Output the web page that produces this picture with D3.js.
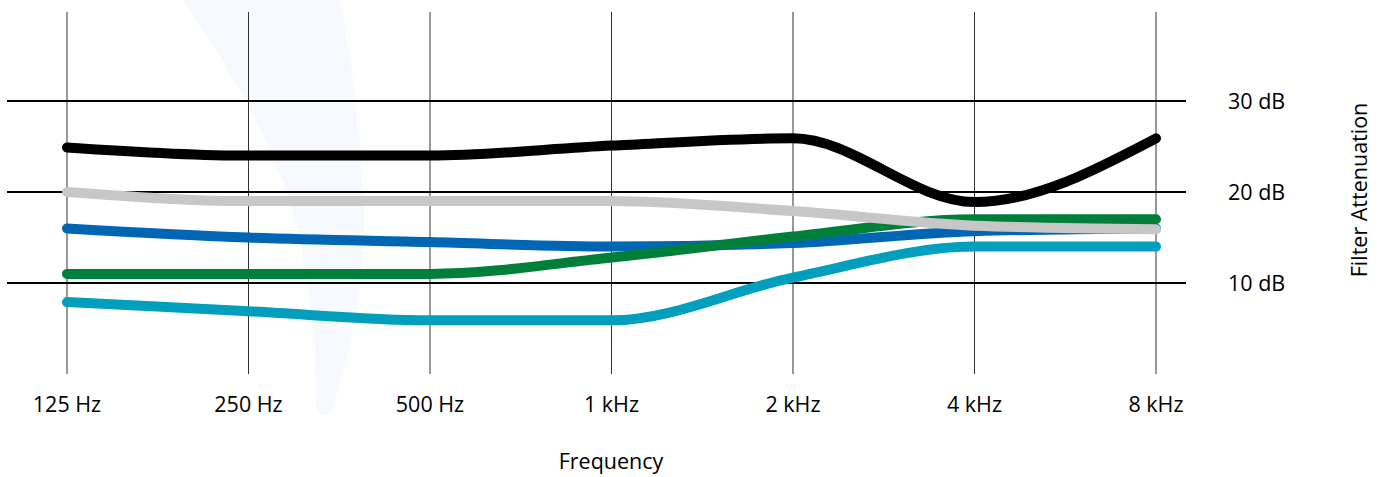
<!DOCTYPE html>
<html>
<head>
<meta charset="utf-8">
<script src="https://cdn.jsdelivr.net/npm/d3@7"></script>
<style>
  body { margin: 0; background: #fff; }
  svg { display: block; font-family: "Open Sans", Lato, sans-serif; }
</style>
</head>
<body>
<svg id="chart" width="1386" height="477"></svg>
<script>
// frequency bands on the x axis
const bands = ["125 Hz", "250 Hz", "500 Hz", "1 kHz", "2 kHz", "4 kHz", "8 kHz"];
const dbTicks = [10, 20, 30];

// attenuation (dB) per filter
const cyanVals  = [7.9, 6.9, 5.9, 5.9, 10.6, 14, 14];
const blueVals  = [16, 15, 14.5, 14, 14.4, 15.7, 16];
const greenVals = [11, 11, 11, 12.8, 15.1, 17, 17];
const grayVals  = [20, 19, 19, 19, 17.9, 16.3, 15.9];
const blackVals = [24.9, 24, 24, 25.1, 25.9, 18.9, 25.9];

const series = [
  {name: "cyan",  color: "#009fbd", values: cyanVals},
  {name: "blue",  color: "#0066b3", values: blueVals},
  {name: "green", color: "#007f3b", values: greenVals},
  {name: "gray",  color: "#c6c7c6", values: grayVals},
  {name: "black", color: "#000000", values: blackVals}
];

const svg = d3.select("#chart");

const x = d3.scalePoint()
  .domain(bands)
  .range([67, 1156]);

const y = d3.scaleLinear()
  .domain([0, 30])
  .range([374, 101]);

// faint watermark behind the grid
svg.append("path")
  .attr("d", "M183,0 C220,55 270,130 295,220 C312,290 316,360 316,405 C316,418 332,418 334,405 C350,350 366,280 364,210 C362,140 352,60 340,0 Z")
  .attr("fill", "#f6f9fd");

// vertical grid lines
svg.append("g")
  .selectAll("line")
  .data(bands)
  .join("line")
  .attr("x1", d => x(d))
  .attr("x2", d => x(d))
  .attr("y1", 12)
  .attr("y2", 374)
  .attr("stroke", "#333")
  .attr("stroke-width", 1);

// horizontal dB lines
svg.append("g")
  .selectAll("line")
  .data(dbTicks)
  .join("line")
  .attr("x1", 7)
  .attr("x2", 1186)
  .attr("y1", d => y(d))
  .attr("y2", d => y(d))
  .attr("stroke", "#000")
  .attr("stroke-width", 2);

const line = d3.line()
  .x((d, i) => x(bands[i]))
  .y(d => y(d))
  .curve(d3.curveMonotoneX);

svg.append("g")
  .selectAll("path")
  .data(series)
  .join("path")
  .attr("d", d => line(d.values))
  .attr("fill", "none")
  .attr("stroke", d => d.color)
  .attr("stroke-width", 10)
  .attr("stroke-linecap", "round")
  .attr("stroke-linejoin", "round");

// x labels
svg.append("g")
  .selectAll("text")
  .data(bands)
  .join("text")
  .attr("x", d => x(d))
  .attr("y", 404)
  .attr("dy", "0.35em")
  .attr("text-anchor", "middle")
  .attr("font-size", "21.5px")
  .attr("fill", "#000")
  .text(d => d);

// y labels
svg.append("g")
  .selectAll("text")
  .data(dbTicks)
  .join("text")
  .attr("x", 1228)
  .attr("y", d => y(d))
  .attr("dy", "0.35em")
  .attr("text-anchor", "start")
  .attr("font-size", "21.5px")
  .attr("fill", "#000")
  .text(d => d + " dB");

svg.append("text")
  .attr("x", 611)
  .attr("y", 461)
  .attr("dy", "0.35em")
  .attr("text-anchor", "middle")
  .attr("font-size", "21.5px")
  .text("Frequency");

svg.append("text")
  .attr("transform", "translate(1359,190) rotate(-90)")
  .attr("dy", "0.35em")
  .attr("text-anchor", "middle")
  .attr("font-size", "21.5px")
  .text("Filter Attenuation");
</script>
</body>
</html>
